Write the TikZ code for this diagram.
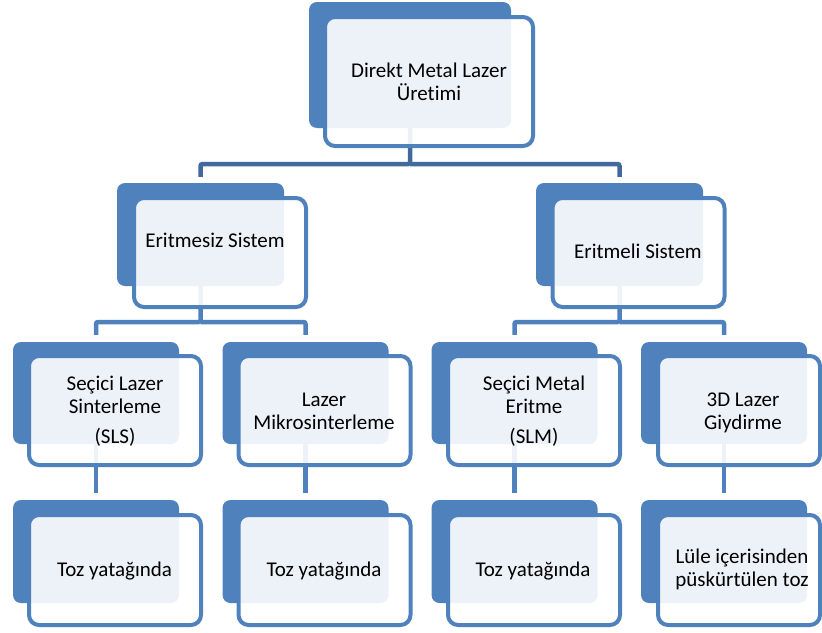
\documentclass[tikz,border=0pt]{standalone}
\usepackage{fontspec}
\setmainfont{Carlito}[Ligatures=NoCommon]
\usetikzlibrary{backgrounds}
\definecolor{boxblue}{HTML}{4F81BD}
\definecolor{linkblue}{HTML}{41699C}

\begin{document}
\begin{tikzpicture}[
  x=1pt, y=-1pt,
  back/.style   = {fill=boxblue, rounded corners=8pt, inner sep=0pt,
                   minimum width=166pt, minimum height=103pt},
  front/.style  = {draw=boxblue, line width=4pt, fill=white, fill opacity=0.9,
                   rounded corners=10pt, inner sep=0pt,
                   minimum width=172pt, minimum height=109pt},
                   % the white front lets the blue back show through, pale
  lbl/.style    = {anchor=base, align=center, inner sep=0pt,
                   font=\fontsize{21}{23}\selectfont},
                   % base = baseline of the last line
  link/.style   = {draw=boxblue, line width=4.5pt, rounded corners=2pt},
  toplink/.style= {link, draw=linkblue},
]
  \useasboundingbox (0,0) rectangle (822,632);

  % level 0
  \node[back, minimum width=202pt, minimum height=126pt] (root) at (410,65) {};
  \node[front, minimum width=208pt, minimum height=129pt] (f_root) at (429,81.5) {};
  \node[lbl] (t_root) at (429,100) {Direkt Metal Lazer\\Üretimi};

  % level 1
  \node[back, minimum width=167pt] (eritmesiz) at (200.5,234.5) {};
  \node[front] (f_eritmesiz) at (220,252.5) {};
  \node[lbl] (t_eritmesiz) at (215,247) {Eritmesiz Sistem};

  \node[back, minimum width=167pt] (eritmeli) at (619.5,234.5) {};
  \node[front] (f_eritmeli) at (638.5,252.5) {};
  \node[lbl] (t_eritmeli) at (638,258) {Eritmeli Sistem};

  % level 2
  \node[back, minimum height=102pt] (sls) at (96,393) {};
  \node[front] (f_sls) at (115,410.5) {};
  \node[lbl] (t_sls) at (115,443) {Seçici Lazer\\Sinterleme\\[7pt](SLS)};

  \node[back, minimum height=102pt] (mikro) at (305.5,393) {};
  \node[front] (f_mikro) at (324.5,410.5) {};
  \node[lbl] (t_mikro) at (324,429) {Lazer\\Mikrosinterleme};

  \node[back, minimum height=102pt] (slm) at (514.5,393) {};
  \node[front] (f_slm) at (534,410.5) {};
  \node[lbl] (t_slm) at (534,443) {Seçici Metal\\Eritme\\[7pt](SLM)};

  \node[back, minimum height=102pt] (giydirme) at (724,393) {};
  \node[front, minimum width=162pt] (f_giydirme) at (739,410.5) {};
  \node[lbl] (t_giydirme) at (743,429) {3D Lazer\\Giydirme};

  % level 3
  \node[back] (toz1) at (96,551.5) {};
  \node[front, minimum height=110pt] (f_toz1) at (115,570) {};
  \node[lbl] (t_toz1) at (114.5,576) {Toz yatağında};

  \node[back] (toz2) at (305.5,551.5) {};
  \node[front, minimum height=110pt] (f_toz2) at (324.5,570) {};
  \node[lbl] (t_toz2) at (324,576) {Toz yatağında};

  \node[back] (toz3) at (514.5,551.5) {};
  \node[front, minimum height=110pt] (f_toz3) at (534,570) {};
  \node[lbl] (t_toz3) at (533,576) {Toz yatağında};

  \node[back] (lule) at (724,551.5) {};
  \node[front, minimum width=162pt, minimum height=110pt] (f_lule) at (739,570) {};
  \node[lbl] (t_lule) at (742,586) {Lüle içerisinden\\püskürtülen toz};

  % connectors, behind the boxes
  \coordinate (bar1) at (0,164);
  \coordinate (bar2) at (0,322);
  \begin{scope}[on background layer]
    \draw[toplink, shorten >=6pt] (root.south) -- (root.south |- bar1) -| (eritmesiz.north);
    \draw[toplink, shorten >=6pt] (root.south |- bar1) -| (eritmeli.north);
    \draw[link, shorten >=7pt] (eritmesiz.south) -- (eritmesiz.south |- bar2) -| (sls.north);
    \draw[link, shorten >=7pt] (eritmesiz.south |- bar2) -| (mikro.north);
    \draw[link, shorten >=7pt] (eritmeli.south) -- (eritmeli.south |- bar2) -| (slm.north);
    \draw[link, shorten >=7pt] (eritmeli.south |- bar2) -| (giydirme.north);
    \draw[link, shorten >=7pt] (sls.south) -- (toz1.north);
    \draw[link, shorten >=7pt] (mikro.south) -- (toz2.north);
    \draw[link, shorten >=7pt] (slm.south) -- (toz3.north);
    \draw[link, shorten >=7pt] (giydirme.south) -- (lule.north);
  \end{scope}
\end{tikzpicture}
\end{document}
